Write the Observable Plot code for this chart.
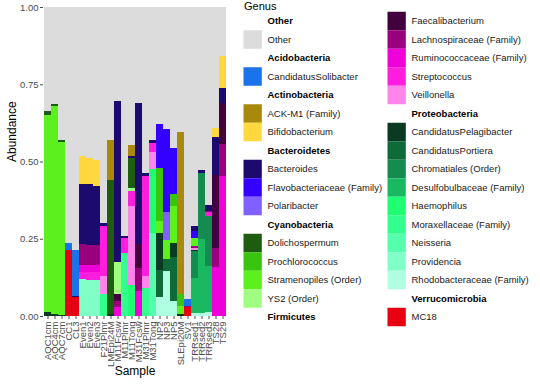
<!DOCTYPE html>
<html><head><meta charset="utf-8">
<script src="https://cdn.jsdelivr.net/npm/d3@7"></script>
<script src="https://cdn.jsdelivr.net/npm/@observablehq/plot@0.6"></script>
<style>
html,body{margin:0;padding:0;background:#fff;}
#wrap{position:relative;width:540px;height:386px;overflow:hidden;font-family:"Liberation Sans",Arial,sans-serif;}
#chart{position:absolute;left:0;top:0;}
#legend{position:absolute;left:0;top:0;pointer-events:none;}
</style></head><body>
<div id="wrap"><div id="chart"></div><svg id="legend" width="540" height="386"></svg></div>
<script>
// ---------- DATA ----------
const samples = ["AQC1cm","AQC4cm","AQC7cm","CC1","CL3","Even1","Even2","Even3","F21Plmr","LMEpi24M","M11Fcsw","M11Plmr","M11Tong","M31Fcsw","M31Plmr","M31Tong","NP2","NP3","NP5","SLEpi20M","SV1","TRRsed1","TRRsed2","TRRsed3","TS28","TS29"];

// values per genus, one per sample (same order as samples)
const other        = [.335,.315,.432, .763,.787, .482,.488,.496, .698, .432, .303,.740,.447, .310,.536,.432, .380,.396,.457, .406, .945, .708,.526,.642, .390,.157];
const solibacter   = [0,0,0, .025,.148, 0,0,0, 0, 0, 0,0,0, 0,0,0, 0,0,0, 0, .022, 0,0,0, 0,0];
const ackm1        = [0,0,0, 0,0, 0,0,0, 0, .128, 0,0,.036, 0,0,0, 0,0,0, .524, 0, 0,0,0, 0,0];
const bifido       = [0,0,0, 0,0, .090,.086,.084, 0, 0, 0,0,0, 0,0,0, 0,0,0, 0, 0, 0,0,0, .030,.106];
const bacteroides  = [0,0,0, 0,.005, .196,.196,.190, .012, 0, .522,.007,.005, .456,.012,.008, 0,0,0, 0, 0, .017,.012,.018, .125,.047];
const flavo        = [0,0,0, 0,0, 0,0,0, 0, 0, 0,0,0, 0,0,0, .140,.266,.149, 0, 0, .022,0,0, 0,0];
const polaribacter = [0,0,0, 0,0, 0,0,0, 0, 0, 0,0,0, 0,0,0, 0,.092,0, 0, 0, 0,0,0, 0,0];
const dolicho      = [.013,.005,.006, 0,0, 0,0,0, 0, .435, 0,0,.097, 0,0,0, 0,0,0, 0, 0, 0,0,0, 0,0];
const prochloro    = [0,0,0, 0,0, 0,0,0, 0, 0, 0,0,0, 0,0,0, .173,0,.039, .038, 0, 0,0,0, 0,0];
const stramenopiles= [.640,.675,.558, 0,0, 0,0,0, 0, 0, 0,0,0, 0,0,0, .037,.060,.120, .027, 0, .026,0,0, 0,0];
const ys2          = [0,0,0, 0,0, 0,0,0, 0, 0, .103,0,.010, 0,0,0, 0,0,0, 0, 0, 0,0,0, 0,0];
const faecali      = [0,0,0, 0,0, 0,0,0, 0, 0, .022,0,0, .078,0,0, 0,0,0, 0, 0, 0,0,0, .234,.134];
const lachno       = [0,0,0, 0,0, .067,.065,.065, 0, 0, .020,0,0, .075,0,0, 0,0,0, 0, .005, .007,0,.005, .064,.103];
const rumino       = [0,0,0, 0,0, .021,.022,.024, 0, 0, .030,0,0, .081,0,0, 0,0,0, 0, 0, 0,0,0, .157,.453];
const strepto      = [0,0,0, 0,0, .025,.025,.025, .160, 0, 0,.048,.050, 0,.324,.030, 0,0,0, 0, 0, 0,0,.010, 0,0];
const veillonella  = [0,0,0, 0,0, 0,0,0, .060, 0, 0,0,.255, 0,.036,.055, 0,0,0, 0, 0, .006,0,0, 0,0];
const pelagibacter = [.012,.005,.004, 0,0, 0,0,0, 0, .005, 0,0,0, 0,0,0, .120,0,.045, .005, 0, .004,0,0, 0,0];
const portiera     = [0,0,0, 0,0, 0,0,0, 0, 0, 0,0,0, 0,0,0, .090,.040,.140, 0, 0, 0,0,0, 0,0];
const chromatiales = [0,0,0, 0,0, 0,0,0, 0, 0, 0,0,0, 0,0,0, 0,0,0, 0, 0, .086,.212,.163, 0,0];
const desulfo      = [0,0,0, 0,0, 0,0,0, 0, 0, 0,0,0, 0,0,0, 0,0,0, 0, 0, .114,.240,.150, 0,0];
const haemophilus  = [0,0,0, 0,0, 0,0,0, 0, 0, 0,0,.100, 0,0,.205, 0,0,0, 0, 0, 0,0,0, 0,0];
const moraxella    = [0,0,0, 0,0, 0,0,0, .070, 0, 0,.205,0, 0,.092,0, 0,0,0, 0, 0, 0,0,0, 0,0];
const neisseria    = [0,0,0, 0,0, 0,0,0, 0, 0, 0,0,0, 0,0,.270, 0,0,0, 0, 0, 0,0,0, 0,0];
const providencia  = [0,0,0, 0,0, .119,.118,.116, 0, 0, 0,0,0, 0,0,0, 0,0,0, 0, 0, 0,0,0, 0,0];
const rhodobacter  = [0,0,0, 0,0, 0,0,0, 0, 0, 0,0,0, 0,0,0, .060,.146,.050, 0, 0, .010,.010,.012, 0,0];
const mc18         = [0,0,0, .212,.060, 0,0,0, 0, 0, 0,0,0, 0,0,0, 0,0,0, 0, .028, 0,0,0, 0,0];

// legend / genus order (top of stack first)
const phyla = ["Other","Acidobacteria","Actinobacteria","Bacteroidetes","Cyanobacteria","Firmicutes","Proteobacteria","Verrucomicrobia"];
const genera = ["Other","CandidatusSolibacter","ACK-M1 (Family)","Bifidobacterium","Bacteroides","Flavobacteriaceae (Family)","Polaribacter","Dolichospermum","Prochlorococcus","Stramenopiles (Order)","YS2 (Order)","Faecalibacterium","Lachnospiraceae (Family)","Ruminococcaceae (Family)","Streptococcus","Veillonella","CandidatusPelagibacter","CandidatusPortiera","Chromatiales (Order)","Desulfobulbaceae (Family)","Haemophilus","Moraxellaceae (Family)","Neisseria","Providencia","Rhodobacteraceae (Family)","MC18"];
const generaPhylum = ["Other","Acidobacteria","Actinobacteria","Actinobacteria","Bacteroidetes","Bacteroidetes","Bacteroidetes","Cyanobacteria","Cyanobacteria","Cyanobacteria","Cyanobacteria","Firmicutes","Firmicutes","Firmicutes","Firmicutes","Firmicutes","Proteobacteria","Proteobacteria","Proteobacteria","Proteobacteria","Proteobacteria","Proteobacteria","Proteobacteria","Proteobacteria","Proteobacteria","Verrucomicrobia"];
const colors = ["#dcdcdc","#1a73e8","#a8890b","#ffd83f","#1c0a6e","#3300ff","#8060ff","#1e5c10","#39c40f","#5cf01e","#a0ff80","#42003e","#98007e","#f000d8","#ff1ede","#ff85ea","#0a3a22","#0f6a3a","#148c4f","#1bb862","#1eff72","#33ff8f","#55ffab","#80ffc6","#b0ffe2","#e60012"];
const series = [other,solibacter,ackm1,bifido,bacteroides,flavo,polaribacter,dolicho,prochloro,stramenopiles,ys2,faecali,lachno,rumino,strepto,veillonella,pelagibacter,portiera,chromatiales,desulfo,haemophilus,moraxella,neisseria,providencia,rhodobacter,mc18];

// ---------- BUILD ----------
const rows = [];
series.forEach((arr, gi) => arr.forEach((v, si) => { if (v > 0) rows.push({sample: samples[si], genus: genera[gi], value: v}); }));
const stackOrder = genera.slice().reverse(); // bottom first

const font = "'Liberation Sans', Arial, Helvetica, sans-serif";
const chart = Plot.plot({
  width: 232, height: 386,
  marginLeft: 43, marginRight: 6, marginTop: 7, marginBottom: 70,
  style: {fontFamily: font, fontSize: "9.5px", background: "transparent", overflow: "visible"},
  x: {type: "band", domain: samples, padding: 0},
  y: {domain: [0, 1]},
  color: {domain: genera, range: colors},
  marks: [
    Plot.barY(rows, {x: "sample", y: "value", fill: "genus", order: stackOrder, shapeRendering: "crispEdges"}),
    Plot.axisY({ticks: [0, 0.25, 0.5, 0.75, 1], tickFormat: d3.format(".2f"), tickSize: 3, tickPadding: 2, label: null, color: "#4d4d4d", fontSize: 9.5}),
    Plot.axisX({tickRotate: -90, tickSize: 3, tickPadding: 2, label: null, color: "#4d4d4d", fontSize: 9.5}),
    Plot.text(["Abundance"], {frameAnchor: "left", dx: -31, rotate: -90, fontSize: 12, fill: "#000"}),
    Plot.text(["Sample"], {frameAnchor: "bottom", dy: 58, fontSize: 12, fill: "#000"})
  ]
});
document.getElementById("chart").appendChild(chart);

// ---------- LEGEND ----------
const legendRows = [];
phyla.forEach(p => {
  legendRows.push({label: p, header: true});
  genera.forEach((g, i) => { if (generaPhylum[i] === p) legendRows.push({label: g, color: colors[i]}); });
});
const perCol = Math.ceil(legendRows.length / 2);
const leg = d3.select("#legend");
leg.append("text").attr("x", 244).attr("y", 9.5).attr("font-family", font).attr("font-size", 11).attr("fill", "#000").text("Genus");
const colX = [243.5, 387.5];
legendRows.forEach((r, i) => {
  const c = Math.floor(i / perCol), k = i % perCol;
  const cy = 21 + 18.5 * k;
  if (!r.header) {
    leg.append("rect").attr("x", colX[c]).attr("y", cy - 9.25).attr("width", 18.3).attr("height", 18.5).attr("fill", r.color);
  }
  leg.append("text").attr("x", colX[c] + 24).attr("y", cy).attr("dy", "0.35em")
    .attr("font-family", font).attr("font-size", 9.5)
    .attr("font-weight", r.header ? "bold" : "normal")
    .attr("fill", r.header ? "#000" : "#1a1a1a").text(r.label);
});
</script></body></html>
